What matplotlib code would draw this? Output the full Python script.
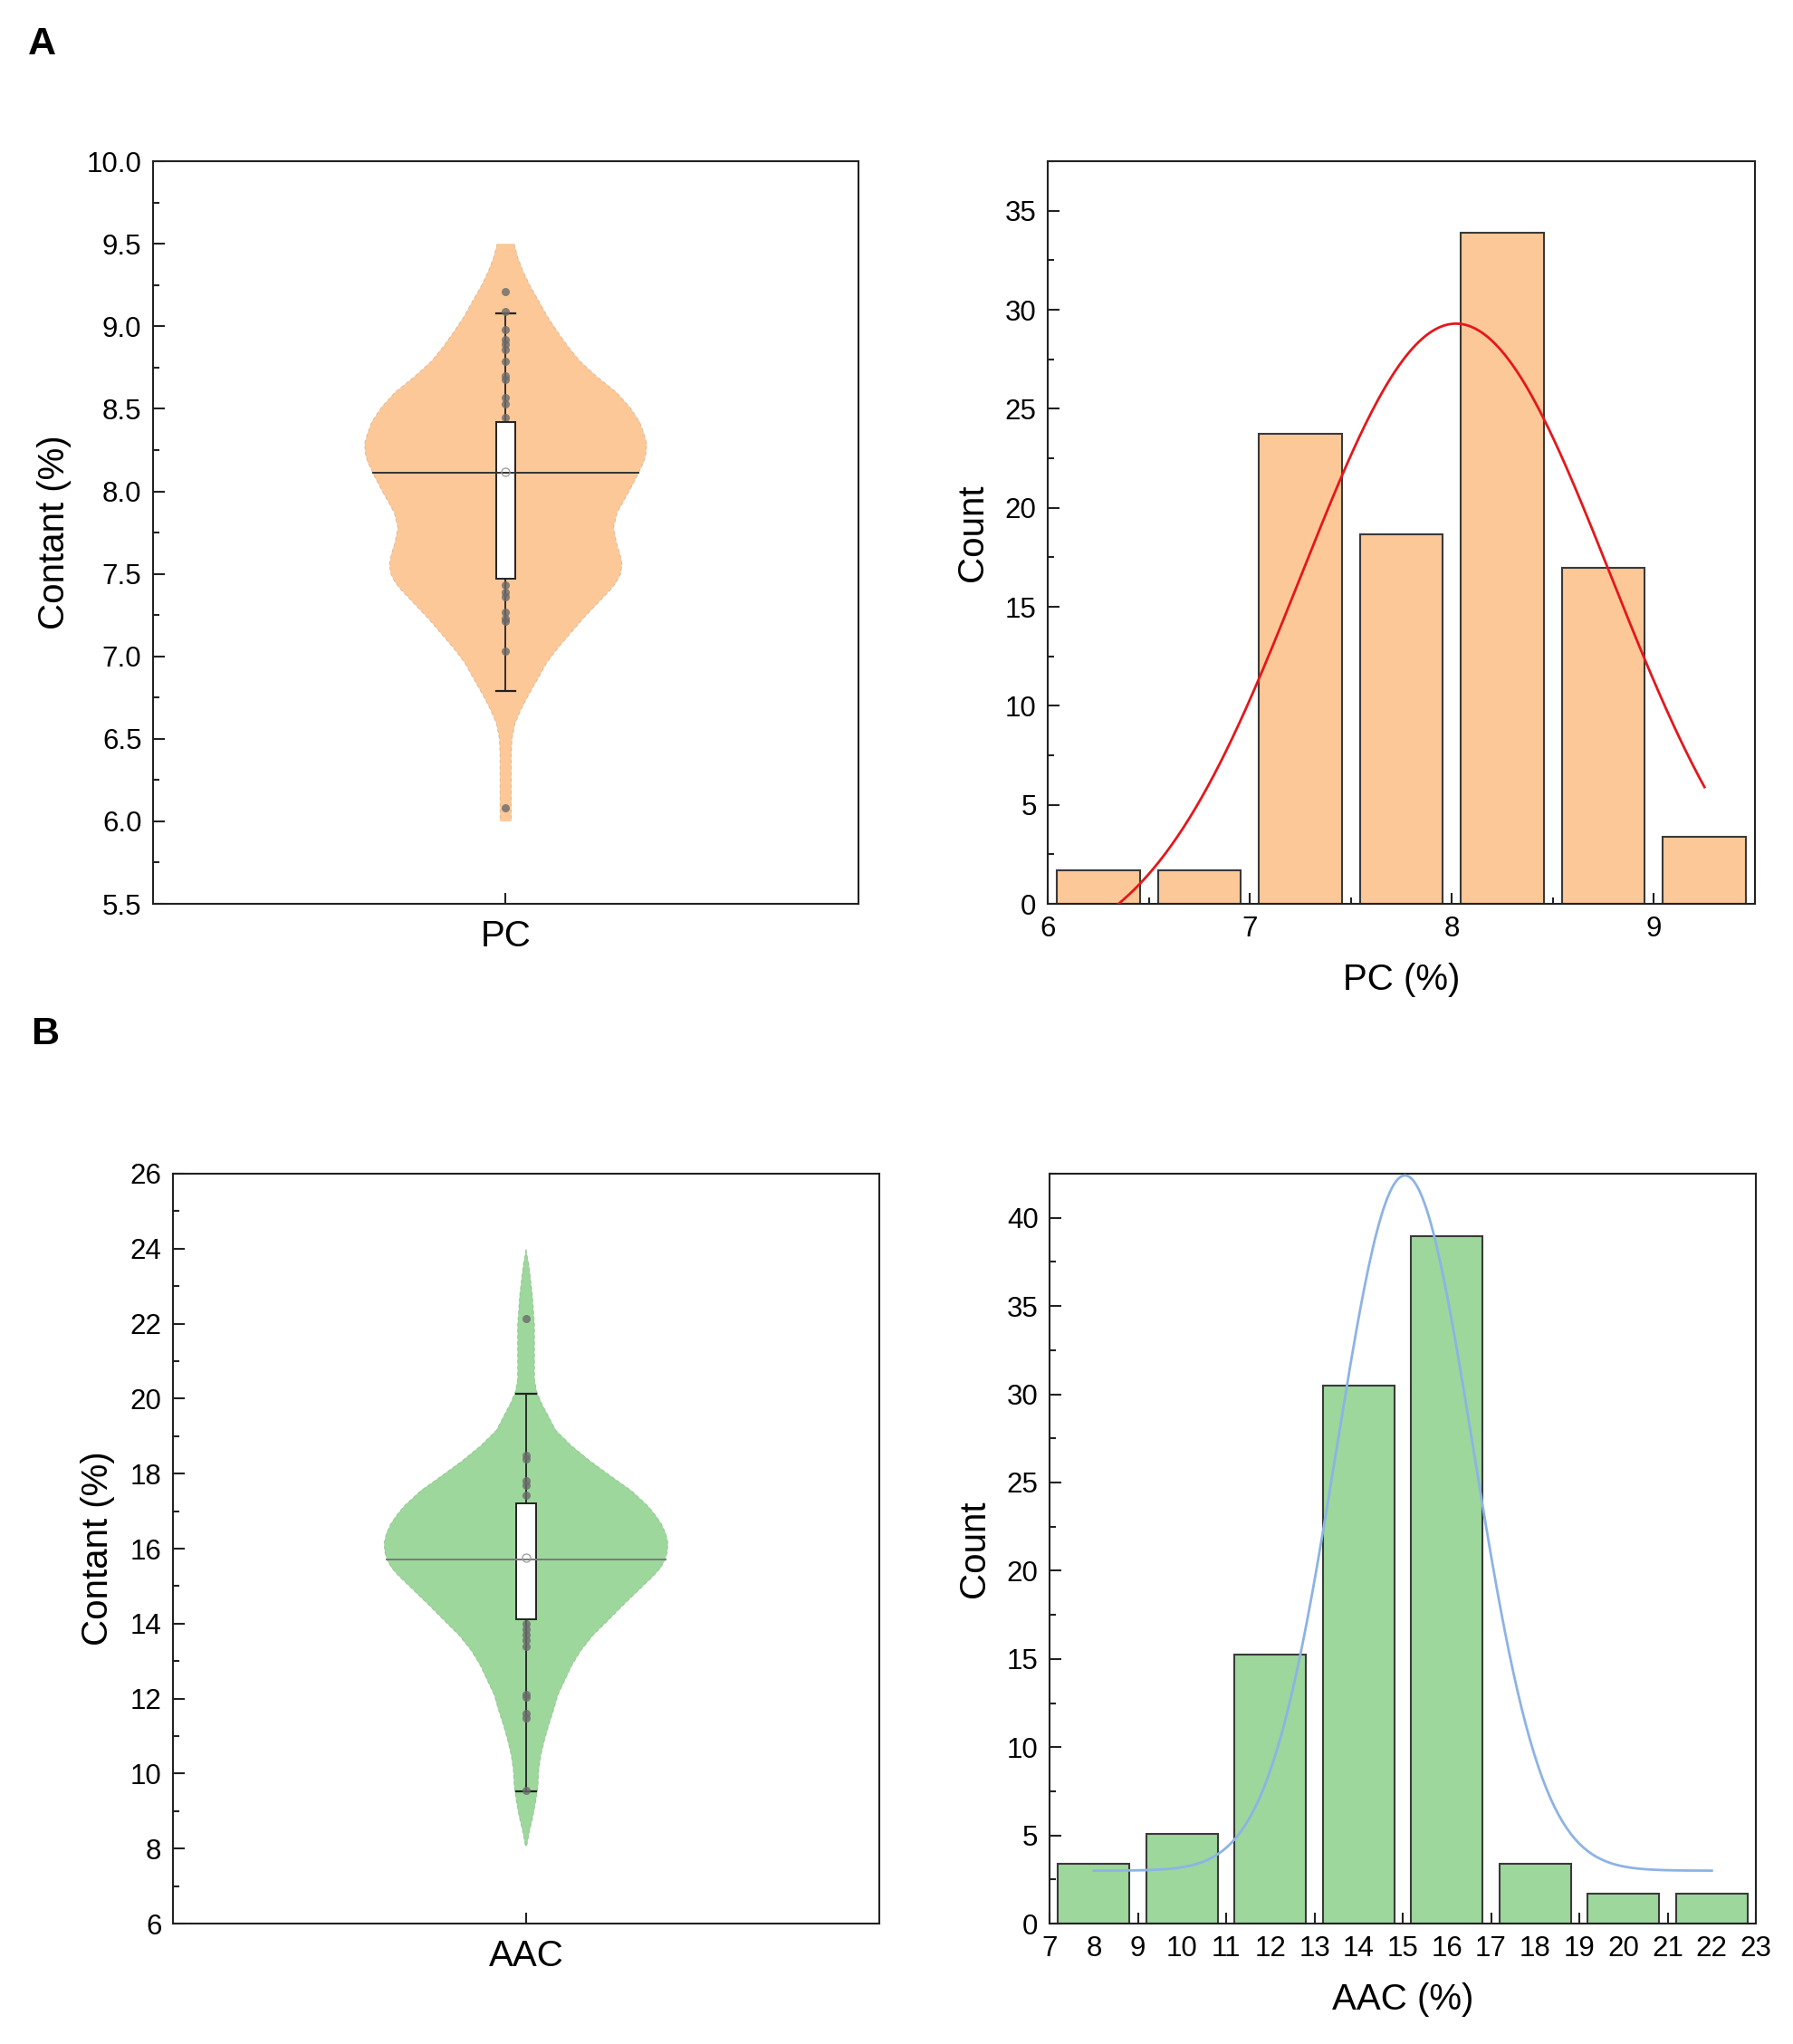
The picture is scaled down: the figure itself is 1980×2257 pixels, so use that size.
import numpy as np
import matplotlib
matplotlib.use("Agg")
import matplotlib.pyplot as plt
from matplotlib.ticker import MultipleLocator, FormatStrFormatter

plt.rcParams['font.family'] = ['Liberation Sans', 'DejaVu Sans']

# ---- data ----
# PC violin outline: y level and half width (x units, axis spans 1.0)
pc_violin_y = [9.50, 9.42, 9.34, 9.25, 9.16, 9.06, 8.97, 8.88, 8.79, 8.70, 8.60, 8.51, 8.42,
               8.35, 8.29, 8.23, 8.18, 8.09, 8.00, 7.94, 7.87, 7.78, 7.69, 7.62, 7.56, 7.50,
               7.45, 7.41, 7.32, 7.23, 7.14, 7.05, 6.96, 6.86, 6.77, 6.68, 6.59, 6.50, 6.40,
               6.00]
pc_violin_hw = [0.012, 0.017, 0.024, 0.034, 0.046, 0.059, 0.073, 0.088, 0.105, 0.128, 0.157,
                0.176, 0.190, 0.196, 0.200, 0.199, 0.196, 0.186, 0.175, 0.167, 0.158, 0.153,
                0.157, 0.162, 0.165, 0.163, 0.157, 0.150, 0.130, 0.110, 0.092, 0.074, 0.058,
                0.045, 0.033, 0.022, 0.013, 0.009, 0.008, 0.008]
pc_dots = [9.21, 9.09, 8.98, 8.92, 8.89, 8.86, 8.79, 8.70, 8.68, 8.57, 8.53, 8.45,
           7.43, 7.39, 7.36, 7.27, 7.23, 7.21, 7.03, 6.08]
pc_box = dict(q1=7.47, median=8.11, q3=8.42, low=6.79, high=9.08, mean=8.12)

# AAC violin outline
aac_violin_y = [23.98, 23.57, 22.77, 21.97, 21.16, 20.52, 20.20, 19.88, 19.56, 19.16, 18.75,
                18.35, 17.95, 17.55, 17.15, 16.90, 16.65, 16.40, 16.15, 15.90, 15.70, 15.50,
                15.30, 15.10, 14.90, 14.50, 14.10, 13.69, 13.29, 12.89, 12.49, 12.09, 11.69,
                11.28, 10.88, 10.48, 10.08, 9.68, 9.28, 8.87, 8.47, 8.07]
aac_violin_hw = [0.000, 0.004, 0.009, 0.012, 0.012, 0.012, 0.015, 0.022, 0.031, 0.042, 0.064,
                 0.090, 0.119, 0.149, 0.172, 0.183, 0.192, 0.198, 0.201, 0.200, 0.197, 0.191,
                 0.182, 0.171, 0.160, 0.138, 0.117, 0.095, 0.078, 0.065, 0.055, 0.045, 0.039,
                 0.032, 0.026, 0.021, 0.018, 0.017, 0.014, 0.010, 0.005, 0.001]
aac_dots = [22.14, 18.50, 18.38, 17.80, 17.70, 17.43, 14.00, 13.85, 13.70, 13.55, 13.40,
            12.12, 12.04, 11.60, 11.48, 9.55]
aac_box = dict(q1=14.12, median=15.70, q3=17.20, low=9.52, high=20.14, mean=15.75)

# histograms (percent of samples per bin)
pc_bins = [6.25, 6.75, 7.25, 7.75, 8.25, 8.75, 9.25]
pc_counts = [1.69, 1.69, 23.73, 18.64, 33.90, 16.95, 3.39]
aac_bins = [8, 10, 12, 14, 16, 18, 20, 22]
aac_counts = [3.39, 5.08, 15.25, 30.51, 38.98, 3.39, 1.69, 1.69]

# Gaussian fit parameters (y0, A, xc, sigma)
pc_fit = (-3.0, 32.3, 8.02, 0.766)
aac_fit = (3.0, 39.4, 15.05, 1.55)

orange = '#FDC898'
green = '#9DD79C'
dark = '#222222'


def style_axes(ax):
    for s in ax.spines.values():
        s.set_linewidth(1.5)
        s.set_color(dark)
    ax.tick_params(which='both', direction='in', top=False, right=False,
                   width=1.5, color=dark, labelsize=22.5, pad=9)
    ax.tick_params(which='major', length=9)
    ax.tick_params(which='minor', length=5)


def draw_violin(ax, ys, hws, color, edge, dots, box, medcol):
    ys = np.array(ys)
    hws = np.array(hws)
    c = 1.0
    ax.fill_betweenx(ys, c - hws, c + hws, facecolor=color, edgecolor='none', zorder=1)
    ax.plot(c - hws, ys, color=edge, lw=0.7, ls=(0, (4, 3)), alpha=0.35, zorder=2)
    ax.plot(c + hws, ys, color=edge, lw=0.7, ls=(0, (4, 3)), alpha=0.35, zorder=2)
    # median line across violin width
    mhw = np.interp(box['median'], ys[::-1], hws[::-1])
    bw = 0.014
    ax.plot([c, c], [box['low'], box['q1']], color=dark, lw=1.3, zorder=3)
    ax.plot([c, c], [box['q3'], box['high']], color=dark, lw=1.3, zorder=3)
    ax.plot([c - bw, c + bw], [box['low']] * 2, color=dark, lw=1.6, zorder=3)
    ax.plot([c - bw, c + bw], [box['high']] * 2, color=dark, lw=1.6, zorder=3)
    ax.plot(np.full(len(dots), c), dots, 'o', color='#6a6a6a', ms=6.5, alpha=0.8,
            mec='none', zorder=4)
    ax.add_patch(plt.Rectangle((c - bw, box['q1']), 2 * bw, box['q3'] - box['q1'],
                               facecolor='white', edgecolor=dark, lw=1.4, zorder=5))
    ax.plot([c - mhw, c + mhw], [box['median']] * 2, color=medcol, lw=1.4, zorder=6)
    ax.plot([c], [box['mean']], 'o', mfc='none', mec='#999999', ms=6.5, mew=0.9, zorder=7)
    ax.set_xlim(0.5, 1.5)
    ax.set_xticks([c])


def gauss(x, p):
    y0, a, xc, s = p
    return y0 + a * np.exp(-(x - xc) ** 2 / (2 * s * s))


fig = plt.figure(figsize=(19.81, 22.57), dpi=100)

# ---- A: PC ----
ax1 = fig.add_axes([0.0853, 0.5578, 0.3932, 0.3633])
draw_violin(ax1, pc_violin_y, pc_violin_hw, orange, '#a07a5a', pc_dots, pc_box, '#333333')
ax1.set_xticklabels(['PC'])
ax1.set_ylim(5.5, 10.0)
ax1.yaxis.set_major_locator(MultipleLocator(0.5))
ax1.yaxis.set_minor_locator(MultipleLocator(0.25))
ax1.yaxis.set_major_formatter(FormatStrFormatter('%.1f'))
ax1.set_ylabel('Contant (%)', fontsize=29, labelpad=12)
style_axes(ax1)
ax1.tick_params(axis='x', which='major', labelsize=29, pad=12)

ax2 = fig.add_axes([0.5841, 0.5578, 0.3942, 0.3633])
ax2.bar(pc_bins, pc_counts, width=0.41, color=orange, edgecolor='#3a3a3a', lw=1.5, zorder=2)
xs = np.linspace(pc_bins[0], pc_bins[-1], 300)
ax2.plot(xs, gauss(xs, pc_fit), color='#E3171C', lw=2.0, zorder=3)
ax2.set_xlim(6, 9.5)
ax2.set_ylim(0, 37.5)
ax2.xaxis.set_major_locator(MultipleLocator(1))
ax2.xaxis.set_minor_locator(MultipleLocator(0.5))
ax2.yaxis.set_major_locator(MultipleLocator(5))
ax2.yaxis.set_minor_locator(MultipleLocator(2.5))
ax2.set_xlabel('PC (%)', fontsize=29, labelpad=16)
ax2.set_ylabel('Count', fontsize=29, labelpad=12)
style_axes(ax2)

# ---- B: AAC ----
ax3 = fig.add_axes([0.0964, 0.0589, 0.3937, 0.3669])
draw_violin(ax3, aac_violin_y, aac_violin_hw, green, '#5f8a5f', aac_dots, aac_box, '#7a7a7a')
ax3.set_xticklabels(['AAC'])
ax3.set_ylim(6, 26)
ax3.yaxis.set_major_locator(MultipleLocator(2))
ax3.yaxis.set_minor_locator(MultipleLocator(1))
ax3.set_ylabel('Contant (%)', fontsize=29, labelpad=12)
style_axes(ax3)
ax3.tick_params(axis='x', which='major', labelsize=29, pad=12)

ax4 = fig.add_axes([0.5851, 0.0589, 0.3937, 0.3669])
ax4.bar(aac_bins, aac_counts, width=1.62, color=green, edgecolor='#3a3a3a', lw=1.5, zorder=2)
xs = np.linspace(aac_bins[0], aac_bins[-1], 300)
ax4.plot(xs, gauss(xs, aac_fit), color='#8DB3E5', lw=2.0, zorder=3)
ax4.set_xlim(7, 23)
ax4.set_ylim(0, 42.5)
ax4.xaxis.set_major_locator(MultipleLocator(1))
ax4.xaxis.set_minor_locator(MultipleLocator(0.5))
ax4.yaxis.set_major_locator(MultipleLocator(5))
ax4.yaxis.set_minor_locator(MultipleLocator(2.5))
ax4.set_xlabel('AAC (%)', fontsize=29, labelpad=16)
ax4.set_ylabel('Count', fontsize=29, labelpad=12)
style_axes(ax4)

fig.text(0.0156, 0.987, 'A', fontsize=31, fontweight='bold', va='top', ha='left')
fig.text(0.0172, 0.503, 'B', fontsize=31, fontweight='bold', va='top', ha='left')

fig.savefig('out.png', dpi=100)
